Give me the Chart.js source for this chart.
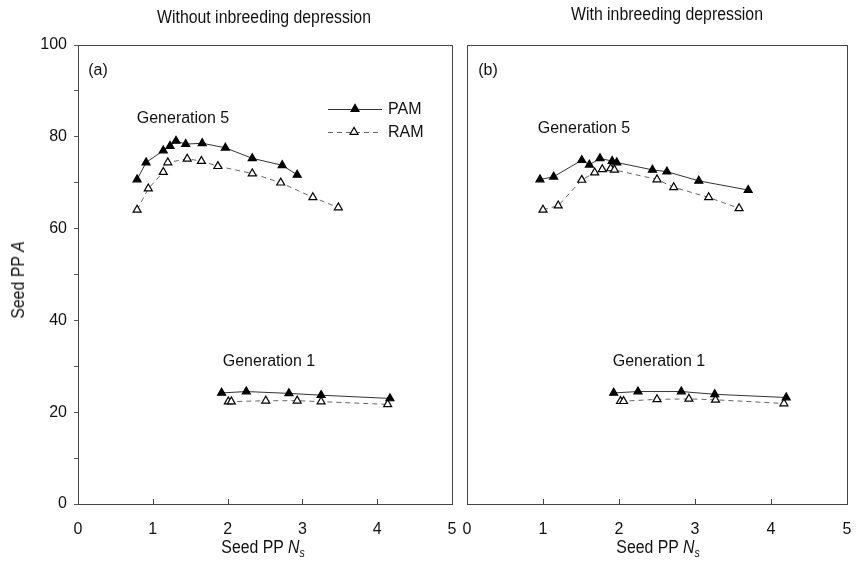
<!DOCTYPE html>
<html>
<head>
<meta charset="utf-8">
<script src="https://cdn.jsdelivr.net/npm/chart.js@4/dist/chart.umd.min.js"></script>
<style>
  html, body { margin:0; padding:0; background:#fff; }
  #wrap { position:relative; width:863px; height:570px; background:#fff; overflow:hidden; }
  canvas { position:absolute; top:0; }
  .t { position:absolute; white-space:nowrap; color:#111; font-family:"Liberation Sans", Arial, sans-serif; font-size:16px; transform:translate(-50%,-50%); line-height:1; }
  .n { font-size:18px; transform:translate(-50%,-50%) scaleX(0.88); }
  .l { transform:translate(0,-50%); }
  sub { font-size:12px; vertical-align:-4px; }
</style>
</head>
<body>
<div id="wrap">
  <canvas id="ca" width="460" height="570" style="left:0px"></canvas>
  <canvas id="cb" width="403" height="570" style="left:460px"></canvas>

  <div class="t n" style="left:264px; top:17px;">Without inbreeding depression</div>
  <div class="t n" style="left:667px; top:14px;">With inbreeding depression</div>

  <div class="t" style="left:98px; top:70px;">(a)</div>
  <div class="t" style="left:488px; top:70px;">(b)</div>

  <div class="t" style="left:183px; top:118px;">Generation 5</div>
  <div class="t" style="left:584px; top:128px;">Generation 5</div>
  <div class="t" style="left:269px; top:361px;">Generation 1</div>
  <div class="t" style="left:659px; top:361px;">Generation 1</div>

  <div class="t l" style="left:388px; top:109px;">PAM</div>
  <div class="t l" style="left:388px; top:132px;">RAM</div>

  <div class="t n" style="left:263px; top:548px;">Seed PP <i>N<sub>s</sub></i></div>
  <div class="t n" style="left:658px; top:548px;">Seed PP <i>N<sub>s</sub></i></div>
  <div class="t n" style="left:18px; top:280px; transform:translate(-50%,-50%) rotate(-90deg) scaleX(0.88);">Seed PP <i>A</i></div>
</div>

<script>
// ---- axis ticks ----
const xTickValues = [0, 1, 2, 3, 4, 5];
const yTickLabels = [0, 20, 40, 60, 80, 100];

// ---- Panel (a): Without inbreeding depression ----
const aGen5PamX = [0.79, 0.91, 1.14, 1.23, 1.31, 1.44, 1.66, 1.97, 2.33, 2.73, 2.93];
const aGen5PamY = [70.7, 74.4, 77.0, 78.0, 79.1, 78.4, 78.6, 77.6, 75.3, 73.8, 71.7];
const aGen5RamX = [0.79, 0.94, 1.14, 1.20, 1.46, 1.65, 1.87, 2.33, 2.71, 3.14, 3.48];
const aGen5RamY = [64.1, 68.7, 72.3, 74.4, 75.2, 74.7, 73.6, 72.0, 70.0, 66.8, 64.6];
const aGen1PamX = [1.92, 2.25, 2.82, 3.25, 4.17];
const aGen1PamY = [24.2, 24.5, 24.1, 23.7, 23.0];
const aGen1RamX = [2.01, 2.05, 2.51, 2.93, 3.25, 4.14];
const aGen1RamY = [22.3, 22.3, 22.5, 22.5, 22.3, 21.7];

// ---- Panel (b): With inbreeding depression ----
const bGen5PamX = [0.96, 1.14, 1.51, 1.61, 1.75, 1.91, 1.97, 2.44, 2.63, 3.05, 3.70];
const bGen5PamY = [70.7, 71.3, 74.9, 73.9, 75.3, 74.7, 74.4, 72.8, 72.4, 70.4, 68.4];
const bGen5RamX = [1.00, 1.20, 1.51, 1.68, 1.78, 1.89, 1.94, 2.50, 2.72, 3.18, 3.58];
const bGen5RamY = [64.1, 65.0, 70.6, 72.2, 72.9, 73.1, 72.8, 70.7, 69.0, 66.8, 64.4];
const bGen1PamX = [1.93, 2.25, 2.82, 3.26, 4.20];
const bGen1PamY = [24.2, 24.5, 24.5, 23.9, 23.2];
const bGen1RamX = [2.02, 2.06, 2.50, 2.92, 3.27, 4.17];
const bGen1RamY = [22.4, 22.4, 22.8, 22.9, 22.7, 21.9];

const seriesNames = ['PAM', 'RAM'];

function pts(xs, ys) { return xs.map((x, i) => ({ x: x, y: ys[i] })); }

function ds(label, xs, ys, filled) {
  return {
    label: label,
    data: pts(xs, ys),
    showLine: true,
    borderColor: filled ? '#333' : '#666',
    borderWidth: 1,
    borderDash: filled ? [] : [5, 4],
    pointStyle: 'triangle',
    pointRadius: 4.6,
    pointHoverRadius: 4.6,
    pointBackgroundColor: filled ? '#000' : '#fff',
    pointBorderColor: '#000',
    pointBorderWidth: 1.2,
    tension: 0
  };
}

function drawTri(ctx, x, y, r, filled) {
  ctx.beginPath();
  let rad = 0;
  ctx.moveTo(x + Math.sin(rad) * r, y - Math.cos(rad) * r);
  rad += 2 * Math.PI / 3;
  ctx.lineTo(x + Math.sin(rad) * r, y - Math.cos(rad) * r);
  rad += 2 * Math.PI / 3;
  ctx.lineTo(x + Math.sin(rad) * r, y - Math.cos(rad) * r);
  ctx.closePath();
  ctx.fillStyle = filled ? '#000' : '#fff';
  ctx.fill();
  ctx.strokeStyle = '#000';
  ctx.lineWidth = 1.2;
  ctx.stroke();
}

const framePlugin = {
  id: 'frame',
  afterDatasetsDraw(chart) {
    const ctx = chart.ctx, a = chart.chartArea, x = chart.scales.x;
    ctx.save();
    ctx.strokeStyle = '#444';
    ctx.lineWidth = 1;
    ctx.setLineDash([]);
    ctx.strokeRect(Math.round(a.left) + 0.5, Math.round(a.top) + 0.5,
                   Math.round(a.right - a.left), Math.round(a.bottom - a.top));
    ctx.beginPath();
    xTickValues.forEach(v => {
      if (v > xTickValues[0] && v < xTickValues[xTickValues.length - 1]) {
        const px = Math.round(x.getPixelForValue(v)) + 0.5;
        ctx.moveTo(px, a.bottom);
        ctx.lineTo(px, a.bottom - 5);
      }
    });
    ctx.stroke();
    ctx.restore();
  }
};

const legendPlugin = {
  id: 'legendA',
  afterDatasetsDraw(chart) {
    if (!chart.options.plugins.legendA || !chart.options.plugins.legendA.show) return;
    const ctx = chart.ctx;
    ctx.save();
    ctx.strokeStyle = '#333'; ctx.lineWidth = 1; ctx.setLineDash([]);
    ctx.beginPath(); ctx.moveTo(328, 109.5); ctx.lineTo(382, 109.5); ctx.stroke();
    drawTri(ctx, 355, 109, 4.6, true);
    ctx.strokeStyle = '#666'; ctx.lineWidth = 1; ctx.setLineDash([5, 4]);
    ctx.beginPath(); ctx.moveTo(328, 132.5); ctx.lineTo(380, 132.5); ctx.stroke();
    ctx.setLineDash([]);
    drawTri(ctx, 354, 132, 4.6, false);
    ctx.restore();
  }
};

function makeChart(id, datasets, showY, pad, yWidth, legend) {
  return new Chart(document.getElementById(id), {
    type: 'scatter',
    data: { datasets: datasets },
    plugins: [framePlugin, legendPlugin],
    options: {
      responsive: false,
      animation: false,
      devicePixelRatio: 1,
      layout: { padding: pad, autoPadding: false },
      plugins: { legend: { display: false }, tooltip: { enabled: false }, legendA: { show: legend } },
      scales: {
        x: {
          type: 'linear',
          min: xTickValues[0],
          max: xTickValues[xTickValues.length - 1],
          afterBuildTicks: s => { s.ticks = xTickValues.map(v => ({ value: v })); },
          afterFit: s => { s.height = 66; s.paddingLeft = 0; s.paddingRight = 0; },
          border: { display: false },
          grid: { display: false, drawTicks: false },
          ticks: { color: '#111', padding: 16, font: { family: 'Liberation Sans', size: 16 } }
        },
        y: {
          type: 'linear',
          min: yTickLabels[0],
          max: yTickLabels[yTickLabels.length - 1],
          afterBuildTicks: s => {
            const t = [];
            for (let i = 0; i < yTickLabels.length; i++) {
              t.push({ value: yTickLabels[i] });
              if (i < yTickLabels.length - 1) t.push({ value: (yTickLabels[i] + yTickLabels[i + 1]) / 2 });
            }
            s.ticks = t;
          },
          afterFit: s => { s.width = yWidth; s.paddingTop = 0; s.paddingBottom = 0; },
          border: { display: false },
          grid: { display: showY, drawOnChartArea: false, drawTicks: showY, tickLength: 4, color: '#555' },
          ticks: {
            display: showY,
            color: '#111',
            padding: 7,
            font: { family: 'Liberation Sans', size: 16 },
            callback: v => (yTickLabels.indexOf(v) >= 0 ? String(v) : '')
          }
        }
      }
    }
  });
}

makeChart('ca', [
  ds('Generation 5 ' + seriesNames[0], aGen5PamX, aGen5PamY, true),
  ds('Generation 5 ' + seriesNames[1], aGen5RamX, aGen5RamY, false),
  ds('Generation 1 ' + seriesNames[0], aGen1PamX, aGen1PamY, true),
  ds('Generation 1 ' + seriesNames[1], aGen1RamX, aGen1RamY, false)
], true, { left: 0, right: 8, top: 45, bottom: 0 }, 78, true);

makeChart('cb', [
  ds('Generation 5 ' + seriesNames[0], bGen5PamX, bGen5PamY, true),
  ds('Generation 5 ' + seriesNames[1], bGen5RamX, bGen5RamY, false),
  ds('Generation 1 ' + seriesNames[0], bGen1PamX, bGen1PamY, true),
  ds('Generation 1 ' + seriesNames[1], bGen1RamX, bGen1RamY, false)
], false, { left: 0, right: 16, top: 45, bottom: 0 }, 7, false);
</script>
</body>
</html>
